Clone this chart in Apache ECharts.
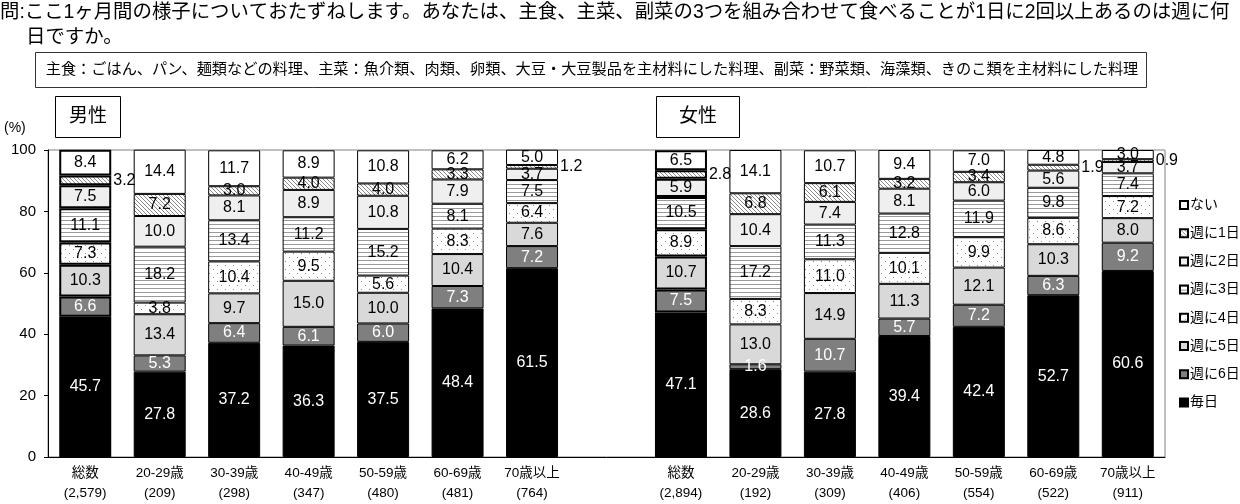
<!DOCTYPE html>
<html><head><meta charset="utf-8">
<script src="https://cdn.jsdelivr.net/npm/echarts@6/dist/echarts.min.js"></script>
<style>html,body{margin:0;padding:0;background:#fff}#c{width:1240px;height:504px}</style>
</head><body><div id="c"></div>
<script>
// ---- data ----
const groups = ['総数','20-29歳','30-39歳','40-49歳','50-59歳','60-69歳','70歳以上'];
const maleN = ['2,579','209','298','347','480','481','764'];
const femaleN = ['2,894','192','309','406','554','522','911'];
const seriesNames = ['毎日','週に6日','週に5日','週に4日','週に3日','週に2日','週に1日','ない'];
const legendOrder = ['ない','週に1日','週に2日','週に3日','週に4日','週に5日','週に6日','毎日'];
const yTicks = [0,20,40,60,80,100];

const maleEveryday = [45.7,27.8,37.2,36.3,37.5,48.4,61.5];
const male6 = [6.6,5.3,6.4,6.1,6.0,7.3,7.2];
const male5 = [10.3,13.4,9.7,15.0,10.0,10.4,7.6];
const male4 = [7.3,3.8,10.4,9.5,5.6,8.3,6.4];
const male3 = [11.1,18.2,13.4,11.2,15.2,8.1,7.5];
const male2 = [7.5,10.0,8.1,8.9,10.8,7.9,3.7];
const male1 = [3.2,7.2,3.0,4.0,4.0,3.3,1.2];
const maleNone = [8.4,14.4,11.7,8.9,10.8,6.2,5.0];

const femaleEveryday = [47.1,28.6,27.8,39.4,42.4,52.7,60.6];
const female6 = [7.5,1.6,10.7,5.7,7.2,6.3,9.2];
const female5 = [10.7,13.0,14.9,11.3,12.1,10.3,8.0];
const female4 = [8.9,8.3,11.0,10.1,9.9,8.6,7.2];
const female3 = [10.5,17.2,11.3,12.8,11.9,9.8,7.4];
const female2 = [5.9,10.4,7.4,8.1,6.0,5.6,3.7];
const female1 = [2.8,6.8,6.1,3.2,3.4,1.9,0.9];
const femaleNone = [6.5,14.1,10.7,9.4,7.0,4.8,3.0];

// label positions (outside the bar) for the 週に1日 series
const outsideLabelIdx = [0,6,8,13,14];

// ---- patterns ----
function mk(w,h,fn){const c=document.createElement('canvas');c.width=w;c.height=h;const g=c.getContext('2d');g.fillStyle='#fff';g.fillRect(0,0,w,h);fn(g);return {image:c,repeat:'repeat'};}
const patHatch = mk(4,4,g=>{g.fillStyle='#8a8a8a';for(let i=0;i<4;i++){g.fillRect(i,i,1,1);} });
const patHoriz = mk(4,4,g=>{g.fillStyle='#9a9a9a';g.fillRect(0,0,4,1);});
const patDots = mk(8,8,g=>{g.fillStyle='#8a8a8a';g.fillRect(1,1,1,1);g.fillRect(5,5,1,1);});
const fills = ['#000000','#7f7f7f','#d9d9d9',patDots,patHoriz,'#efefef',patHatch,'#ffffff'];
const labelColors = ['#fff','#fff','#000','#000','#000','#000','#000','#000'];

const maleSets = [maleEveryday,male6,male5,male4,male3,male2,male1,maleNone];
const femaleSets = [femaleEveryday,female6,female5,female4,female3,female2,female1,femaleNone];

const cats = groups.map((g,i)=>g+'\n('+maleN[i]+')').concat([''], groups.map((g,i)=>g+'\n('+femaleN[i]+')'));

const FONT = '"Liberation Sans","Noto Sans CJK JP",sans-serif';

const series = seriesNames.map((name,si)=>{
  const vals = maleSets[si].concat([null], femaleSets[si]);
  return {
    name, type:'bar', stack:'s', barWidth:52,
    itemStyle:{color:fills[si], borderColor:'#000', borderWidth:1},
    label:{show:true, position:'inside', color:labelColors[si], fontSize:16, fontFamily:FONT,
      formatter:p=>p.value==null?'':Number(p.value).toFixed(1)},
    emphasis:{disabled:true},
    data: vals.map((v,i)=>{
      if(v==null) return null;
      const d={value:v};
      if(i===0||i===8) d.itemStyle={borderWidth:2};
      if(si===6 && outsideLabelIdx.includes(i)) d.label={position:'right', distance:2, color:'#000'};
      return d;
    })
  };
});

const chart = echarts.init(document.getElementById('c'));
chart.setOption({
  animation:false,
  backgroundColor:'#fff',
  grid:{left:48,right:75,top:150,bottom:47,show:true,borderColor:'#808080',borderWidth:1},
  legend:{orient:'vertical',left:1174,top:193,icon:'rect',itemWidth:8,itemHeight:8,itemGap:14.2,
    data:legendOrder, selectedMode:false, textStyle:{fontSize:14,fontFamily:FONT,color:'#000',padding:[0,0,0,-3]}},
  xAxis:{type:'category',data:cats,
    axisLine:{lineStyle:{color:'#000'}},
    axisTick:{interval:0,length:5,lineStyle:{color:'#000'}},
    axisLabel:{interval:0,fontSize:13.5,lineHeight:20,color:'#000',fontFamily:FONT,margin:6}},
  yAxis:{type:'value',min:0,max:100,interval:20,
    axisLine:{show:true,lineStyle:{color:'#000'}},
    axisTick:{show:true,length:4,lineStyle:{color:'#000'}},
    splitLine:{show:false},
    axisLabel:{fontSize:15,color:'#000',fontFamily:FONT,margin:12,
      formatter:v=>yTicks.includes(v)?String(v):''}},
  graphic:[
    {type:'text',left:0,top:3,style:{text:'問:ここ1ヶ月間の様子についておたずねします。あなたは、主食、主菜、副菜の3つを組み合わせて食べることが1日に2回以上あるのは週に何',fontSize:19.4,fontFamily:FONT,fill:'#000'}},
    {type:'text',left:26,top:28,style:{text:'日ですか。',fontSize:19.4,fontFamily:FONT,fill:'#000'}},
    {type:'rect',shape:{x:35.5,y:52.5,width:1111,height:35},style:{fill:'#fff',stroke:'#333',lineWidth:1}},
    {type:'text',x:592,y:70,style:{text:'主食：ごはん、パン、麺類などの料理、主菜：魚介類、肉類、卵類、大豆・大豆製品を主材料にした料理、副菜：野菜類、海藻類、きのこ類を主材料にした料理',fontSize:15.2,fontFamily:FONT,fill:'#000',align:'center',verticalAlign:'middle'}},
    {type:'rect',shape:{x:55.5,y:96.5,width:65,height:41},style:{fill:'#fff',stroke:'#000',lineWidth:1}},
    {type:'text',x:88,y:117,style:{text:'男性',fontSize:19,fontFamily:FONT,fill:'#000',align:'center',verticalAlign:'middle'}},
    {type:'rect',shape:{x:656.5,y:96.5,width:83,height:41},style:{fill:'#fff',stroke:'#000',lineWidth:1}},
    {type:'text',x:698,y:117,style:{text:'女性',fontSize:19,fontFamily:FONT,fill:'#000',align:'center',verticalAlign:'middle'}},
    {type:'text',left:4,top:121,style:{text:'(%)',fontSize:14,fontFamily:FONT,fill:'#000'}}
  ],
  series
});
</script></body></html>
